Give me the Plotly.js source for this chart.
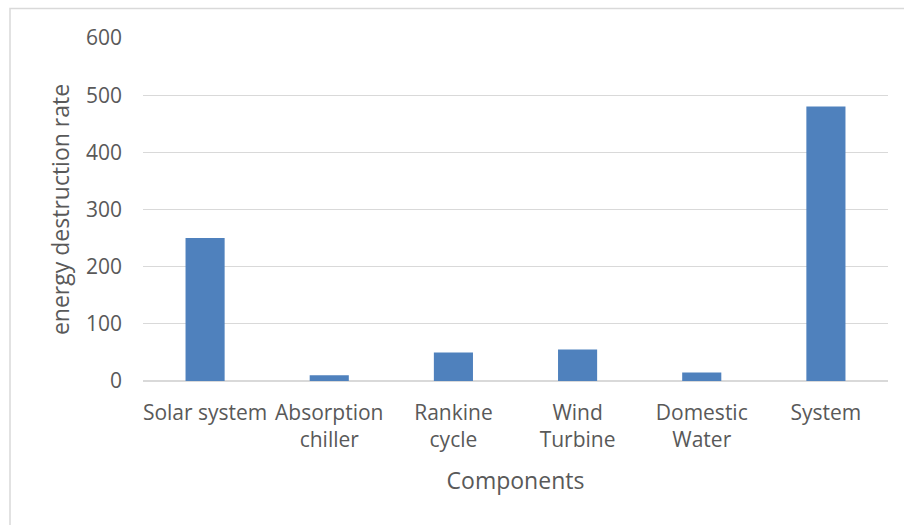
<!DOCTYPE html>
<html>
<head>
<meta charset="utf-8">
<script src="https://cdn.plot.ly/plotly-3.0.1.min.js"></script>
<style>html,body{margin:0;padding:0;background:#fff;}#chart{width:904px;height:525px;}</style>
</head>
<body>
<div id="chart"></div>
<script>
var categories = ["Solar system", "Absorption chiller", "Rankine cycle", "Wind Turbine", "Domestic Water", "System"];
var tickLabels = ["Solar system", "Absorption<br>chiller", "Rankine<br>cycle", "Wind<br>Turbine", "Domestic<br>Water", "System"];
var values = [250, 10, 50, 55, 15, 480];
var yTicks = [0, 100, 200, 300, 400, 500, 600];

var fontFam = "'Open Sans', 'Liberation Sans', sans-serif";
var grey = "#595959";

var trace = {
  type: "bar",
  x: categories,
  y: values,
  marker: {color: "#4f81bd", line: {width: 0}},
  hoverinfo: "x+y"
};

var layout = {
  width: 904,
  height: 525,
  margin: {l: 143, r: 16, t: 38, b: 144},
  paper_bgcolor: "#ffffff",
  plot_bgcolor: "#ffffff",
  showlegend: false,
  bargap: 0.685,
  font: {family: fontFam, color: grey, size: 21},
  xaxis: {
    type: "category",
    tickvals: categories,
    ticktext: tickLabels,
    showgrid: false,
    zeroline: false,
    showline: false,
    ticks: "",
    ticklabelstandoff: 17,
    tickfont: {family: fontFam, size: 21, color: grey},
    title: {text: "Components", font: {family: fontFam, size: 23, color: grey}, standoff: 20}
  },
  yaxis: {
    range: [0, 600],
    tickvals: yTicks,
    showgrid: true,
    gridcolor: "#d9d9d9",
    gridwidth: 1.3,
    zeroline: true,
    zerolinecolor: "#d9d9d9",
    zerolinewidth: 1.3,
    showline: false,
    ticks: "",
    ticklabelstandoff: 20,
    tickfont: {family: fontFam, size: 21, color: grey},
    title: {text: "energy destruction rate", font: {family: fontFam, size: 23, color: grey}, standoff: 9}
  },
  shapes: [{
    type: "rect",
    xref: "paper", yref: "paper",
    x0: (10 - 143) / 745, x1: (920 - 143) / 745,
    y0: (381 - 540) / 343, y1: (381 - 8.5) / 343,
    line: {color: "#d9d9d9", width: 1.5},
    fillcolor: "rgba(0,0,0,0)",
    layer: "below"
  }]
};

Plotly.newPlot("chart", [trace], layout, {displayModeBar: false, staticPlot: true});
</script>
</body>
</html>
